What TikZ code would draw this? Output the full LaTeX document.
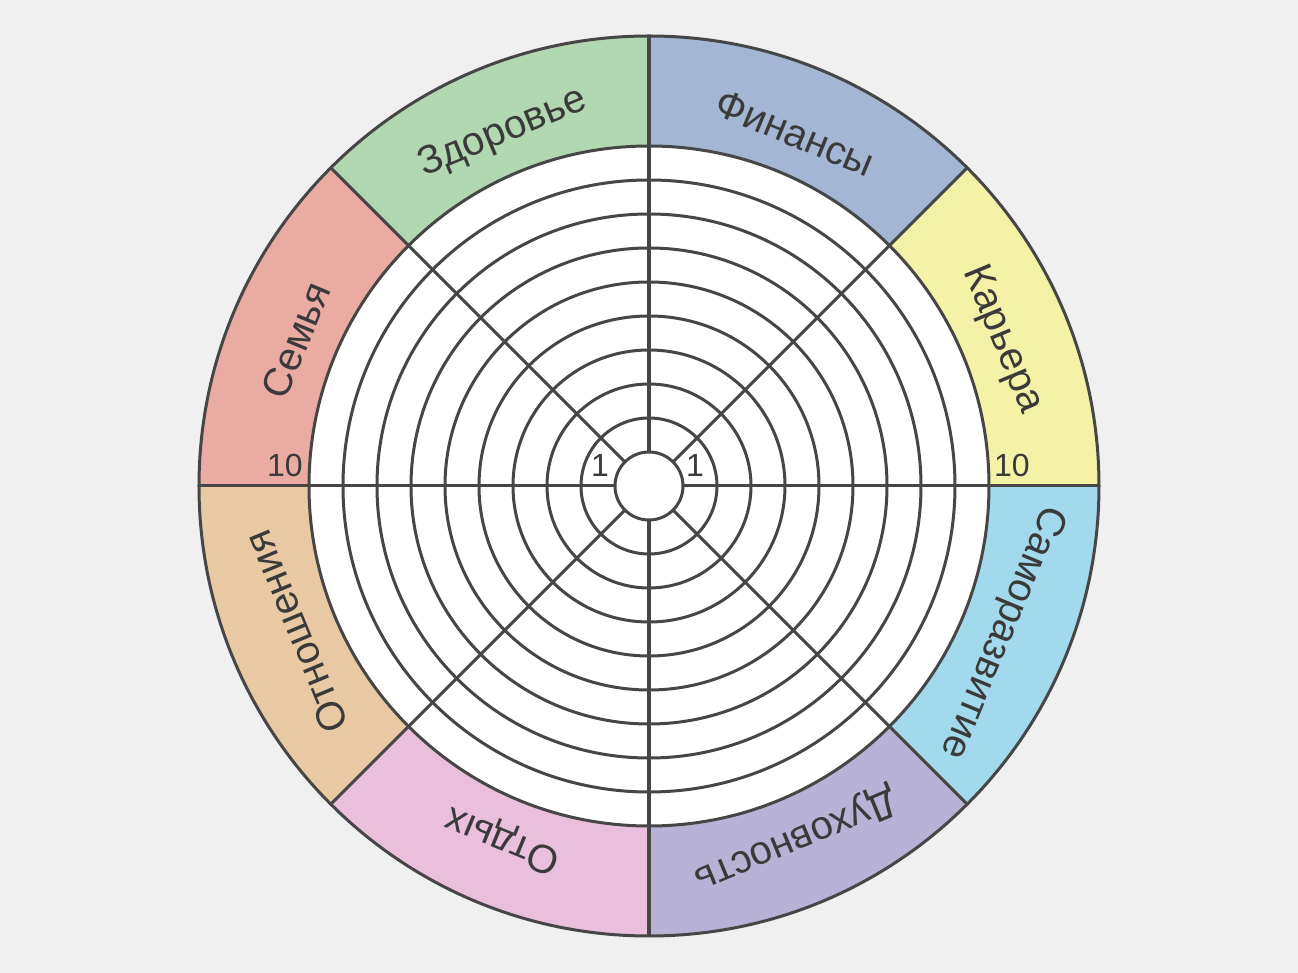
\documentclass[tikz,border=0pt]{standalone}
\usepackage{fontspec}
\setmainfont{Liberation Sans}
\usepackage{tikz}
\usepackage{xcolor}
\usetikzlibrary{positioning}

\definecolor{bggray}{HTML}{F0F0F0}
\definecolor{linegray}{HTML}{464646}
\definecolor{textgray}{HTML}{3A3A3A}
\definecolor{cfin}{HTML}{A3B6D3}
\definecolor{chealth}{HTML}{B2D8B2}
\definecolor{cfamily}{HTML}{EAABA3}
\definecolor{crelat}{HTML}{E8C9A4}
\definecolor{crest}{HTML}{E9BFDC}
\definecolor{cspirit}{HTML}{B8B2D6}
\definecolor{cgrowth}{HTML}{A3D9EC}
\definecolor{ccareer}{HTML}{F4F2A6}

\begin{document}
\begin{tikzpicture}[x=1pt, y=1pt]
\tikzstyle{wheelline}=[draw=linegray, line width=3pt]
\tikzstyle{area}=[font=\fontsize{40}{48}\selectfont, text=textgray, inner sep=0pt]
\tikzstyle{score}=[font=\fontsize{32}{38}\selectfont, text=textgray, anchor=base, inner sep=0pt]

\useasboundingbox[fill=bggray] (-649,-487) rectangle (649,486);
\coordinate (centre) at (0,0);

% coloured sectors
\foreach \a/\c in {45/cfin, 90/chealth, 135/cfamily, 180/crelat, 225/crest, 270/cspirit, 315/cgrowth, 0/ccareer}
  \fill[\c] (centre) -- (\a:450) arc (\a:\a+45:450) -- cycle;
\fill[white] (centre) circle (340);

% rings and spokes
\foreach \r in {1,...,10}
  \draw[wheelline] (centre) circle (34*\r);
\foreach \a in {0,45,...,315}
  \draw[wheelline] (\a:34) -- (\a:450);
\draw[wheelline] (centre) circle (450);

% area labels
\foreach \m/\t [count=\i] in {67.5/Финансы, 112.5/Здоровье, 157.5/Семья, 202.5/Отношения, 247.5/Отдых, 292.5/Духовность, 337.5/Саморазвитие, 22.5/Карьера}
  \node[area, rotate=\m-90] (lbl\i) at (\m:382) {\t};

% scale marks
\node[score] (oneleft) at (-49,9) {1};
\node[score] (oneright) at (46,9) {1};
\node[score] (tenleft) at (-364,9) {10};
\node[score] (tenright) at (363,9) {10};

\end{tikzpicture}
\end{document}
